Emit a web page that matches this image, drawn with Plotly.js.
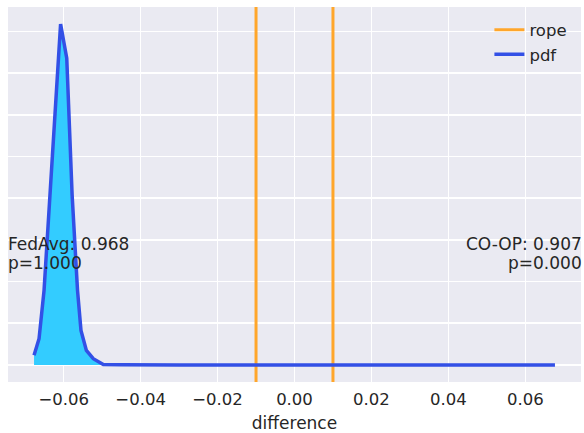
<!DOCTYPE html>
<html>
<head>
<meta charset="utf-8">
<script src="https://cdn.plot.ly/plotly-3.0.1.min.js"></script>
<style>
  html, body { margin: 0; padding: 0; background: #ffffff; }
  #chart { width: 584px; height: 433px; }
</style>
</head>
<body>
<div id="chart"></div>
<script>
// Posterior density of the accuracy difference (sampled points)
const diffX = [-0.0677, -0.0664, -0.0651, -0.0635, -0.0621, -0.0608, -0.0592, -0.0586,
               -0.0578, -0.0564, -0.0555, -0.0541, -0.0523, -0.0497, -0.0450, -0.0300,
               0.0000, 0.0300, 0.0677];
const pdfY  = [4.6, 12.6, 35.8, 83.9, 120.0, 163.6, 147.2, 120.0,
               81.5, 35.8, 16.6, 7.0, 3.0, 0.2, 0.05, 0.0,
               0.0, 0.0, 0.0];

// Region of practical equivalence
const rope = [-0.01, 0.01];

// Tick labels on the difference axis
const xTickVals = [-0.06, -0.04, -0.02, 0.00, 0.02, 0.04, 0.06];
const xTickText = ["\u22120.06", "\u22120.04", "\u22120.02", "0.00", "0.02", "0.04", "0.06"];

// Side labels
const leftLabel  = ["FedAvg: 0.968", "p=1.000"];
const rightLabel = ["CO-OP: 0.907", "p=0.000"];

// Axis ranges with 5% padding around the data
const xMin = Math.min(...diffX), xMax = Math.max(...diffX);
const yMin = Math.min(0, ...pdfY), yMax = Math.max(...pdfY);
const xPad = 0.05 * (xMax - xMin), yPad = 0.05 * (yMax - yMin);
const xRange = [xMin - xPad, xMax + xPad];
const yRange = [yMin - yPad, yMax + yPad];

const textColor = "#262626";
const fontFam = "DejaVu Sans, sans-serif";

const ropeX = [], ropeY = [];
rope.forEach((r, i) => {
  if (i > 0) { ropeX.push(null); ropeY.push(null); }
  ropeX.push(r, r);
  ropeY.push(yRange[0], yRange[1]);
});

const traces = [
  {
    x: ropeX, y: ropeY, type: "scatter", mode: "lines", name: "rope",
    line: { color: "#FFA62B", width: 3 }, hoverinfo: "skip"
  },
  {
    x: diffX, y: pdfY, type: "scatter", mode: "none", fill: "tozeroy",
    fillcolor: "#33CCFF", showlegend: false, hoverinfo: "skip"
  },
  {
    x: diffX, y: pdfY, type: "scatter", mode: "lines", name: "pdf",
    line: { color: "#3350E6", width: 3.5 }
  }
];

const annY = 0.343, annGap = 0.026;
const annotations = [];
leftLabel.forEach((t, i) => annotations.push({
  text: t, xref: "paper", yref: "paper", x: 0, y: annY + annGap - 2 * annGap * i,
  xanchor: "left", yanchor: "middle", showarrow: false, xshift: -2,
  font: { family: fontFam, size: 17, color: textColor }
}));
rightLabel.forEach((t, i) => annotations.push({
  text: t, xref: "paper", yref: "paper", x: 1, y: annY + annGap - 2 * annGap * i,
  xanchor: "right", yanchor: "middle", showarrow: false, xshift: 3,
  font: { family: fontFam, size: 17, color: textColor }
}));

const layout = {
  width: 584, height: 433,
  margin: { l: 8, r: 3, t: 7, b: 51, pad: 0 },
  paper_bgcolor: "#ffffff",
  plot_bgcolor: "#EAEAF2",
  font: { family: fontFam, size: 16.5, color: textColor },
  showlegend: true,
  legend: {
    x: 0.985, y: 0.985, xanchor: "right", yanchor: "top",
    bgcolor: "rgba(0,0,0,0)", borderwidth: 0,
    font: { family: fontFam, size: 16.5, color: textColor },
    tracegroupgap: 0
  },
  xaxis: {
    range: xRange, tickvals: xTickVals, ticktext: xTickText,
    showgrid: true, gridcolor: "#ffffff", gridwidth: 1.6,
    zeroline: false, showline: false, ticks: "",
    ticklabelstandoff: 5,
    tickfont: { family: fontFam, size: 16.5, color: textColor },
    title: { text: "difference", font: { family: fontFam, size: 17, color: textColor }, standoff: 9 }
  },
  yaxis: {
    range: yRange, dtick: 20, tick0: 0,
    showgrid: true, gridcolor: "#ffffff", gridwidth: 1.6,
    zeroline: false, showline: false, ticks: "", showticklabels: false
  },
  annotations: annotations
};

Plotly.newPlot("chart", traces, layout, { displayModeBar: false, staticPlot: true });
</script>
</body>
</html>
